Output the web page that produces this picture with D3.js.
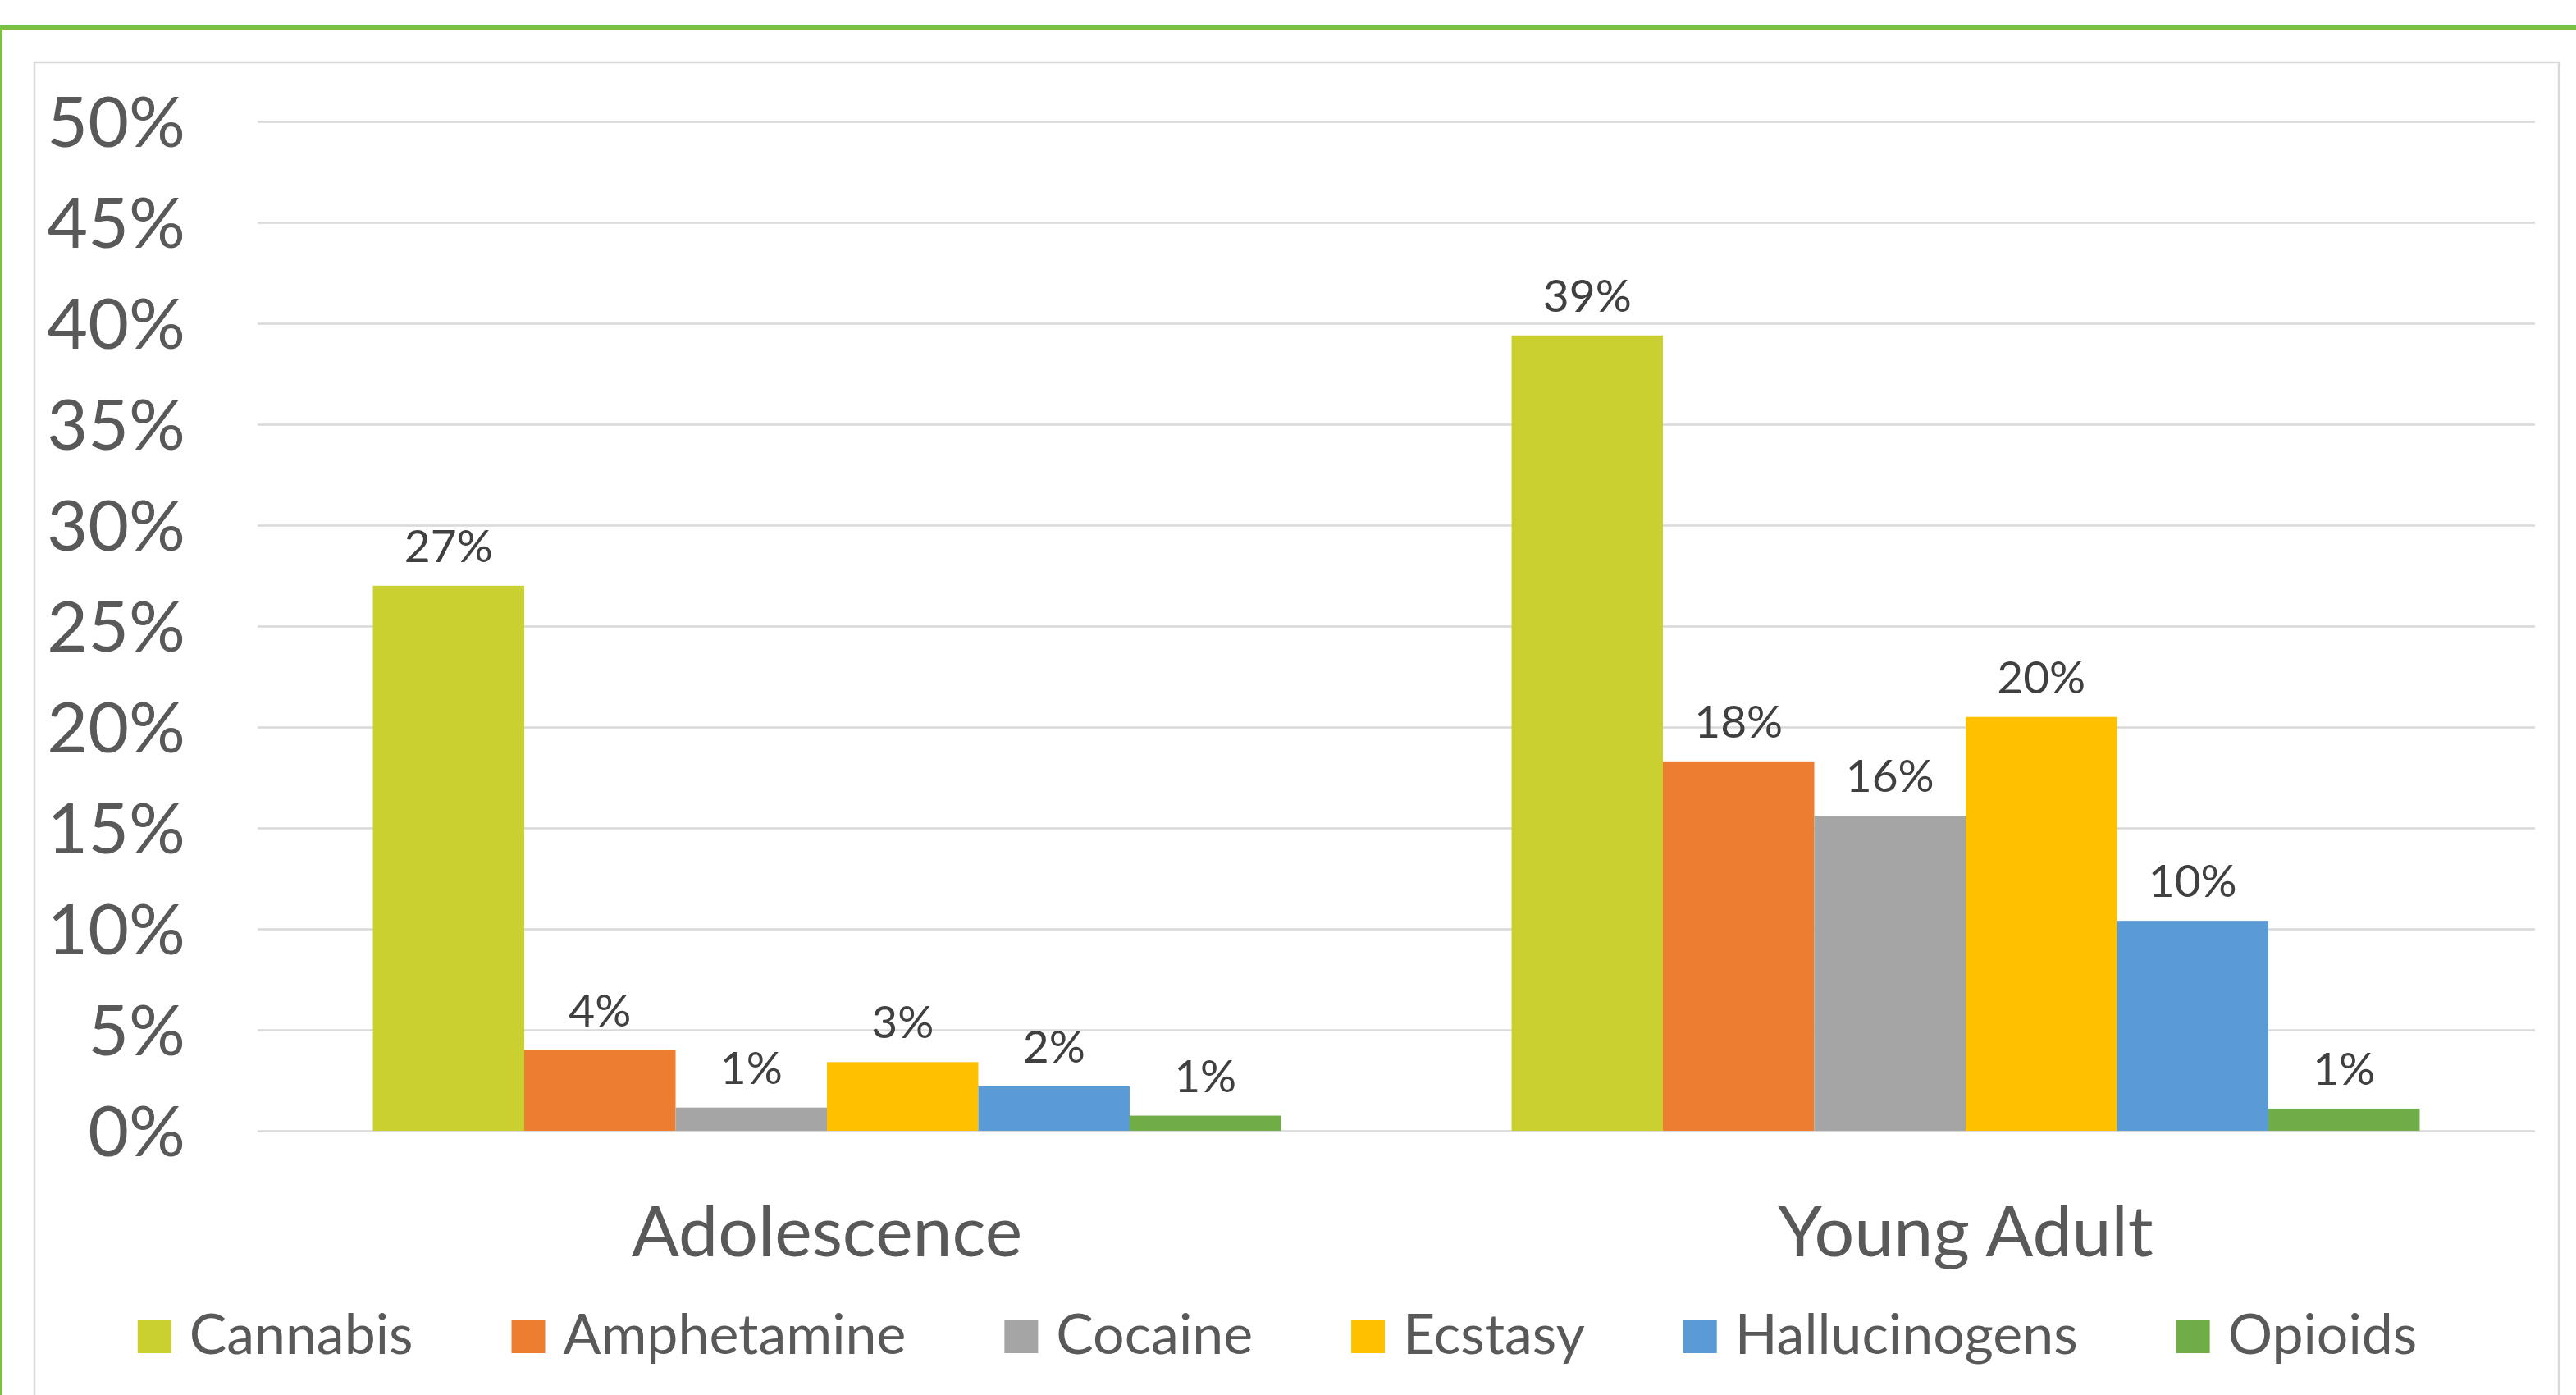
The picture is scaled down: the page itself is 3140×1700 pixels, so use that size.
<!DOCTYPE html>
<html>
<head>
<meta charset="utf-8">
<script src="https://cdnjs.cloudflare.com/ajax/libs/d3/7.8.5/d3.min.js"></script>
<style>
  html, body { margin: 0; padding: 0; background: #ffffff; }
  svg { display: block; }
  text { font-family: Lato, "Open Sans", sans-serif; }
</style>
</head>
<body>
<svg id="chart" width="3140" height="1700"></svg>
<script>
// ---- data ----
const groups = ["Adolescence", "Young Adult"];
const series = ["Cannabis", "Amphetamine", "Cocaine", "Ecstasy", "Hallucinogens", "Opioids"];
const adolescenceValues = [0.270, 0.040, 0.0115, 0.034, 0.022, 0.0075];
const youngAdultValues  = [0.394, 0.183, 0.156, 0.205, 0.104, 0.011];
const labelTexts = [
  ["27%", "4%", "1%", "3%", "2%", "1%"],
  ["39%", "18%", "16%", "20%", "10%", "1%"]
];
const colors = ["#C9D02F", "#ED7D31", "#A5A5A5", "#FFC000", "#5B9BD5", "#70AD47"];
const tickValues = [0, 0.05, 0.10, 0.15, 0.20, 0.25, 0.30, 0.35, 0.40, 0.45, 0.50];

const valuesByGroup = [adolescenceValues, youngAdultValues];

const svg = d3.select("#chart");

// outer green border
svg.append("rect")
  .attr("x", 0).attr("y", 33)
  .attr("width", 3300).attr("height", 1800)
  .attr("fill", "none").attr("stroke", "#7AC143").attr("stroke-width", 6);

// inner chart frame
svg.append("rect")
  .attr("x", 42).attr("y", 76)
  .attr("width", 3119 - 42).attr("height", 1800)
  .attr("fill", "#ffffff").attr("stroke", "#D9D9D9").attr("stroke-width", 2.5);

const plotLeft = 314, plotRight = 3090;
const y = d3.scaleLinear().domain([0, 0.5]).range([1378, 148]);
const x0 = d3.scaleBand().domain(groups).range([plotLeft, plotRight])
  .paddingInner(0.2025).paddingOuter(0.10125);
const x1 = d3.scaleBand().domain(series).range([0, x0.bandwidth()]).padding(0);

// gridlines + tick labels
const axis = svg.append("g")
  .attr("transform", `translate(${plotLeft},0)`)
  .call(d3.axisLeft(y).tickValues(tickValues).tickSize(-(plotRight - plotLeft))
    .tickFormat(d3.format(".0%")));
axis.select(".domain").remove();
axis.selectAll(".tick line").attr("stroke", "#D9D9D9").attr("stroke-width", 2.5);
axis.selectAll(".tick text")
  .attr("x", -88).attr("dy", "0.36em")
  .attr("text-anchor", "end")
  .attr("fill", "#595959")
  .style("font-size", "86px")
  .style("font-family", "Lato, 'Open Sans', sans-serif");

// bars
const gGroups = svg.append("g").selectAll("g")
  .data(groups).join("g")
  .attr("transform", d => `translate(${x0(d)},0)`);

gGroups.each(function(gname, gi) {
  const g = d3.select(this);
  const vals = valuesByGroup[gi].map((v, i) => ({ s: series[i], v, i }));
  g.selectAll("rect").data(vals).join("rect")
    .attr("x", d => x1(d.s))
    .attr("y", d => y(d.v))
    .attr("width", x1.bandwidth())
    .attr("height", d => y(0) - y(d.v))
    .attr("fill", d => colors[d.i]);
  g.selectAll("text.lbl").data(vals).join("text")
    .attr("class", "lbl")
    .attr("x", d => x1(d.s) + x1.bandwidth() / 2)
    .attr("y", d => y(d.v) - 29)
    .attr("text-anchor", "middle")
    .attr("fill", "#404040")
    .style("font-size", "55px")
    .text(d => labelTexts[gi][d.i]);
});

// category labels
svg.append("g").selectAll("text")
  .data(groups).join("text")
  .attr("x", d => x0(d) + x0.bandwidth() / 2)
  .attr("y", 1531)
  .attr("text-anchor", "middle")
  .attr("fill", "#595959")
  .style("font-size", "86px")
  .text(d => d);

// legend
const legend = svg.append("g");
const items = legend.selectAll("g").data(series).join("g");
items.append("rect")
  .attr("x", 0).attr("y", 1608)
  .attr("width", 41).attr("height", 41)
  .attr("fill", (d, i) => colors[i]);
items.append("text")
  .attr("x", 63).attr("y", 1650)
  .attr("fill", "#595959")
  .style("font-size", "68px")
  .text(d => d);
let cursor = 0;
const offsets = [];
items.each(function() {
  const w = d3.select(this).select("text").node().getComputedTextLength();
  offsets.push(cursor);
  cursor += 63 + w + 120;
});
const total = cursor - 120;
const startX = 1557 - total / 2;
items.attr("transform", (d, i) => `translate(${startX + offsets[i]},0)`);
</script>
</body>
</html>
